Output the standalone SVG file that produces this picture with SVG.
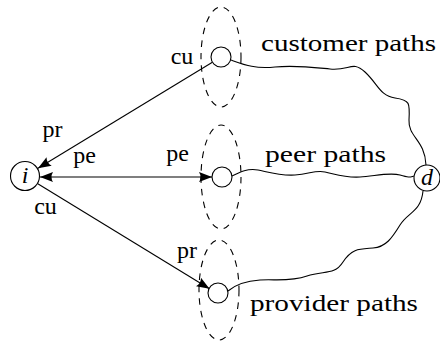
<svg xmlns="http://www.w3.org/2000/svg" width="440" height="342" viewBox="0 0 440 342">
<style>
.n{fill:#fff;stroke:#000;stroke-width:1.1}
.e{fill:none;stroke:#000;stroke-width:1.1;stroke-dasharray:6.5 6}
.l{fill:none;stroke:#000;stroke-width:1.1}
.t{font-family:"Liberation Serif","Times New Roman",serif;font-size:24px;fill:#000}
.s{text-anchor:middle}
.it{font-style:italic}
</style>
<defs>
<marker id="ah" markerUnits="userSpaceOnUse" markerWidth="14" markerHeight="10" refX="13" refY="5" orient="auto-start-reverse">
<path d="M0,0 L13,5 L0,10 Q3,5 0,0 z" fill="#000"/>
</marker>
</defs>
<g id="groups">
<ellipse class="e" cx="221" cy="57" rx="20" ry="50"/>
<ellipse class="e" cx="221" cy="177" rx="20" ry="52"/>
<ellipse class="e" cx="219" cy="290" rx="20" ry="50"/>
</g>
<g id="connectors">
<line class="l" x1="212.4" y1="62.2" x2="38" y2="168.2" marker-end="url(#ah)"/>
<line class="l" x1="40" y1="177" x2="212" y2="177" marker-start="url(#ah)" marker-end="url(#ah)"/>
<line class="l" x1="37.8" y1="183.8" x2="209.5" y2="288.8" marker-end="url(#ah)"/>
<path class="l" d="M231,60 C245,65 255,69 275,67 S310,67 330,69 S352,60 365,72 S380,96 395,98 S410,103 409,120 S425,140 426,165"/>
<path class="l" d="M232,176 C240,172 248,168 258,170 S280,176 295,175 S315,170 325,172 S345,178 360,177 S390,172 400,175 S410,177 414,176"/>
<path class="l" d="M228,291 C235,285 245,281 260,280 S290,282 307,276 S334,276 343,262 S360,249 373,248 S392,238 400,225 S421,212 423,191"/>
</g>
<g id="node-i">
<circle class="n" cx="25" cy="176" r="14.5"/>
<text class="t it s" x="25" y="183">i</text>
</g>
<g id="node-d">
<circle class="n" cx="427" cy="178" r="13"/>
<text class="t it s" x="427" y="185">d</text>
</g>
<g id="node-c1"><circle class="n" cx="221" cy="57" r="10"/></g>
<g id="node-c2"><circle class="n" cx="222" cy="177" r="10"/></g>
<g id="node-c3"><circle class="n" cx="218" cy="293" r="10"/></g>
<g id="labels">
<text class="t s" x="52.5" y="137">pr</text>
<text class="t s" x="84.5" y="163">pe</text>
<text class="t s" x="45.5" y="214">cu</text>
<text class="t s" x="182" y="64">cu</text>
<text class="t s" x="177.5" y="161">pe</text>
<text class="t s" x="187" y="258">pr</text>
<text class="t" x="261" y="51" textLength="175" lengthAdjust="spacingAndGlyphs">customer paths</text>
<text class="t" x="265" y="162" textLength="121" lengthAdjust="spacingAndGlyphs">peer paths</text>
<text class="t" x="250" y="311" textLength="168" lengthAdjust="spacingAndGlyphs">provider paths</text>
</g>
</svg>
